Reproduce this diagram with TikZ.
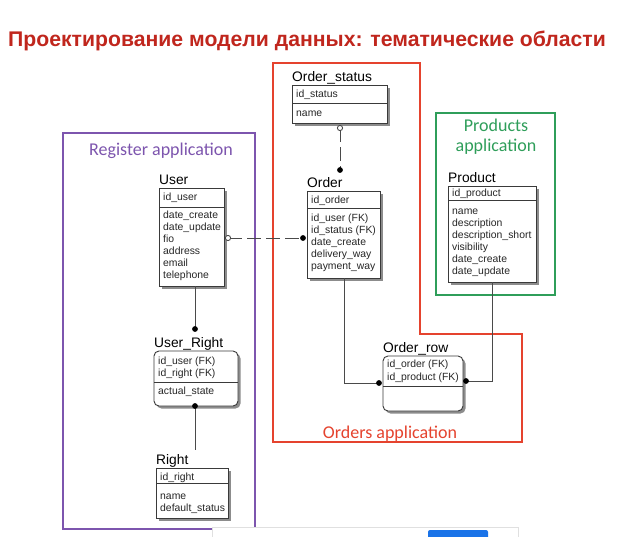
\documentclass[tikz,border=0pt]{standalone}
\usepackage{fontspec}
\setmainfont{Liberation Sans}
\newfontfamily\calfont{Carlito}
\usetikzlibrary{shadows}
\definecolor{titlered}{HTML}{C0261D}
\definecolor{areared}{HTML}{E5432E}
\definecolor{areapurple}{HTML}{7D55AE}
\definecolor{areagreen}{HTML}{2F9E5A}
\definecolor{boxline}{HTML}{3A3A3A}
\definecolor{conline}{HTML}{4A4A4A}
\definecolor{btnblue}{HTML}{1A73E8}
\tikzset{
  ebox/.style={draw=boxline, line width=0.9pt, fill=white, inner sep=0pt, outer sep=0pt,
    drop shadow={shadow xshift=2.5pt, shadow yshift=-2.5pt, fill=black!45, opacity=1}},
  rbox/.style={ebox, rounded corners=5pt},
  etitle/.style={anchor=base west, inner sep=0pt, font=\fontsize{13.8}{14}\selectfont},
  attr/.style={anchor=base west, inner sep=0pt, font=\fontsize{10.4}{11}\selectfont, text=black!85},
  divline/.style={draw=boxline, line width=0.8pt},
  conn/.style={draw=conline, line width=0.9pt},
  dashconn/.style={conn, dash pattern=on 14pt off 5pt},
  area/.style={line width=1.6pt},
  arealabel/.style={inner sep=0pt, anchor=base, font=\calfont\fontsize{18}{20}\selectfont},
}
\begin{document}
\begin{tikzpicture}[x=1pt,y=-1pt]
\useasboundingbox (0,0) rectangle (617,536);
\fill[white] (0,0) rectangle (617,536);

% title
\node[anchor=base, inner sep=0pt, text=titlered, font=\bfseries\fontsize{21.2}{23}\selectfont] (title) at (307,46)
  {Проектирование модели данных: тематические области};

% areas
\draw[area, areapurple] (63,133) rectangle (255,529);
\draw[area, areared] (273,63) -- (420,63) -- (420,334) -- (522,334) -- (522,442) -- (273,442) -- cycle;
\draw[area, areagreen] (436,113) rectangle (555,295);

\node[arealabel, text=areapurple] (lreg) at (161,155) {Register application};
\node[arealabel, text=areagreen] (lprod1) at (496,131) {Products};
\node[arealabel, text=areagreen] (lprod2) at (496,151) {application};
\node[arealabel, text=areared] (lord) at (390,438) {Orders application};

% Order_status
\node[ebox, anchor=north west, minimum width=95, minimum height=38] (ostatus) at (292,85) {};
\draw[divline] (292,103) -- (387,103);
\node[etitle] (ostatusT) at (292,81) {Order\_status};
\node[attr] (os1) at (296,97) {id\_status};
\node[attr] (os2) at (296,116) {name};

% User
\node[ebox, anchor=north west, minimum width=65, minimum height=98] (user) at (159,188) {};
\draw[divline] (159,207) -- (224,207);
\node[etitle] (userT) at (159,184) {User};
\node[attr] (u0) at (163,200) {id\_user};
\node[attr] (u1) at (163,218) {date\_create};
\node[attr] (u2) at (163,230) {date\_update};
\node[attr] (u3) at (163,242) {fio};
\node[attr] (u4) at (163,254) {address};
\node[attr] (u5) at (163,266) {email};
\node[attr] (u6) at (163,278) {telephone};

% Order
\node[ebox, anchor=north west, minimum width=73, minimum height=87] (order) at (307,191) {};
\draw[divline] (307,208) -- (380,208);
\node[etitle] (orderT) at (307,187) {Order};
\node[attr] (o0) at (311,203) {id\_order};
\node[attr] (o1) at (311,221) {id\_user (FK)};
\node[attr] (o2) at (311,233) {id\_status (FK)};
\node[attr] (o3) at (311,245) {date\_create};
\node[attr] (o4) at (311,257) {delivery\_way};
\node[attr] (o5) at (311,269) {payment\_way};

% Product
\node[ebox, anchor=north west, minimum width=88, minimum height=96] (product) at (448,186) {};
\draw[divline] (448,200) -- (536,200);
\node[etitle] (productT) at (448,182) {Product};
\node[attr] (p0) at (452,196) {id\_product};
\node[attr] (p1) at (452,214) {name};
\node[attr] (p2) at (452,226) {description};
\node[attr] (p3) at (452,238) {description\_short};
\node[attr] (p4) at (452,250) {visibility};
\node[attr] (p5) at (452,262) {date\_create};
\node[attr] (p6) at (452,274) {date\_update};

% User_Right
\node[rbox, anchor=north west, minimum width=84, minimum height=55] (uright) at (154,351) {};
\draw[divline] (154,382) -- (238,382);
\node[etitle] (urightT) at (154,347) {User\_Right};
\node[attr] (ur0) at (158,364) {id\_user (FK)};
\node[attr] (ur1) at (158,376) {id\_right (FK)};
\node[attr] (ur2) at (158,394) {actual\_state};

% Right
\node[ebox, anchor=north west, minimum width=72, minimum height=50] (right) at (156,468) {};
\draw[divline] (156,483) -- (228,483);
\node[etitle] (rightT) at (156,464) {Right};
\node[attr] (r0) at (160,480) {id\_right};
\node[attr] (r1) at (160,499) {name};
\node[attr] (r2) at (160,511) {default\_status};

% Order_row
\node[rbox, anchor=north west, minimum width=80, minimum height=55] (orow) at (383,356) {};
\draw[divline] (383,386) -- (463,386);
\node[etitle] (orowT) at (383,352) {Order\_row};
\node[attr] (or0) at (387,367) {id\_order (FK)};
\node[attr] (or1) at (387,380) {id\_product (FK)};

% connectors
\coordinate (osc) at (340,128);
\coordinate (ordtop) at (340,170);
\draw[dashconn] (osc) -- (ordtop);
\draw[conn, fill=white] (osc) circle (2.6);
\fill[black] (ordtop) circle (2.9);

\coordinate (uc) at (228,238);
\coordinate (ordleft) at (303,238);
\draw[dashconn] (uc) -- (ordleft);
\draw[conn, fill=white] (uc) circle (2.6);
\fill[black] (ordleft) circle (2.9);

\coordinate (urtop) at (195,329);
\draw[conn] (user.south -| urtop) -- (urtop);
\fill[black] (urtop) circle (2.9);

\coordinate (urbot) at (195,406);
\coordinate (rtop) at (195,450);
\draw[conn] (urbot) -- (rtop);
\fill[black] (urbot) circle (2.9);

\coordinate (orl) at (379,383);
\draw[conn] (order.south -| 344,0) |- (orl);
\fill[black] (orl) circle (2.9);

\coordinate (orr) at (466,381);
\draw[conn] (product.south -| 492,0) |- (orr);
\fill[black] (orr) circle (2.9);

% bottom window fragment
\draw[draw=black!12, fill=white] (212,527) rectangle (518,540);
\fill[btnblue, rounded corners=2pt] (428,530) rectangle (488,540);
\end{tikzpicture}
\end{document}
